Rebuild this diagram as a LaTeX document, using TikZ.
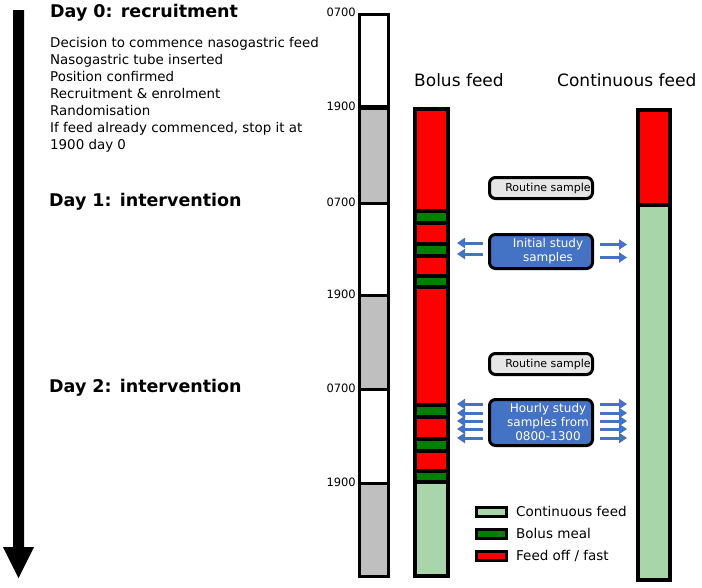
\documentclass[tikz,border=0pt]{standalone}
\usepackage{fontspec}
\setmainfont{DejaVu Sans}
\usetikzlibrary{positioning, arrows.meta, calc}
\definecolor{feedred}{RGB}{255,0,0}
\definecolor{bolusgreen}{RGB}{0,128,0}
\definecolor{contgreen}{RGB}{168,213,170}
\definecolor{nightgrey}{RGB}{191,191,191}
\definecolor{routinegrey}{RGB}{230,230,230}
\definecolor{studyblue}{RGB}{68,114,196}
\tikzset{>={Triangle[length=8pt,width=10pt]}}

\begin{document}
\begin{tikzpicture}[x=1pt, y=-1pt,
    day_title/.style={anchor=base west, inner sep=0, font=\fontsize{17.5}{20}\selectfont\bfseries},
    col_title/.style={anchor=base west, inner sep=0, font=\fontsize{17}{20}\selectfont},
    time_label/.style={anchor=east, inner sep=0, font=\fontsize{11.5}{13}\selectfont},
    day_cell/.style={draw=black, line width=3pt},
    feed_cell/.style={draw=black, line width=4pt},
    sample_box/.style={rectangle, rounded corners=6pt, draw=black, line width=3pt, minimum width=103pt, inner sep=0},
    sample_text/.style={inner sep=0, align=center, font=\fontsize{12}{14}\selectfont},
    study_arrow/.style={->, draw=studyblue, fill=studyblue, line width=3pt},
    swatch/.style={rectangle, draw=black, line width=3pt, minimum width=30pt, minimum height=9pt, inner sep=0},
    key_text/.style={inner sep=0, text height=9.8pt, text depth=0pt, font=\fontsize{13.5}{15}\selectfont}]
    \useasboundingbox (0,0) rectangle (702,587);

    % time runs downwards
    \fill (13,10) -- (24,10) -- (24,547) -- (34,547) -- (18.5,578) -- (3,547) -- (13,547) -- cycle;

    \node[day_title] (day0) at (50,17) {Day 0: recruitment};
    \node[anchor=north west, inner sep=0, align=left, font=\fontsize{13.4}{17}\selectfont] (steps) at (50,37)
    {Decision to commence nasogastric feed\\Nasogastric tube inserted\\Position confirmed\\Recruitment \& enrolment\\Randomisation\\If feed already commenced, stop it at\\1900 day 0};
    \node[day_title] (day1) at (49,206) {Day 1: intervention};
    \node[day_title] (day2) at (49,392) {Day 2: intervention};

    % day / night bar
    \foreach \top/\bot/\col in {14/107/white, 107/203/nightgrey, 203/295/white, 295/389/nightgrey, 389/483/white, 483/576/nightgrey}
        \draw[day_cell, fill=\col] (359.5,\top) rectangle (388.5,\bot);
    \draw[line width=5pt] (358,107) -- (390,107);
    \foreach \y/\t in {13/0700, 107/1900, 203/0700, 295/1900, 389/0700, 483/1900}
        \node[time_label] (t\y) at (356,\y-1) {\t};

    \node[col_title] (bolus_title) at (414,86) {Bolus feed};
    \node[col_title] (cont_title) at (557,86) {Continuous feed};

    % bolus arm
    \foreach \top/\bot/\col in {109/211/feedred, 211/223/bolusgreen, 223/244/feedred, 244/256/bolusgreen, 256/276/feedred, 276/287/bolusgreen, 287/405/feedred, 405/417/bolusgreen, 417/439/feedred, 439/451/bolusgreen, 451/471/feedred, 471/482/bolusgreen, 482/576/contgreen}
        \draw[feed_cell, fill=\col] (415,\top) rectangle (448,\bot);

    % continuous arm
    \draw[feed_cell, fill=feedred] (638,110) rectangle (670,205);
    \draw[feed_cell, fill=contgreen] (638,205) rectangle (670,580);

    % samples
    \node[sample_box, fill=routinegrey, minimum height=21pt] (routine1) at (541,188) {};
    \node[sample_text, font=\fontsize{11}{13}\selectfont] (routine1_text) at ([xshift=7pt]routine1.center) {Routine sample};
    \node[sample_box, fill=studyblue, minimum height=34pt] (initial) at (541,251.5) {};
    \node[sample_text, text=white] (initial_text) at ([xshift=7pt]initial.center) {Initial study\\samples};
    \node[sample_box, fill=routinegrey, minimum height=21pt] (routine2) at (541,364) {};
    \node[sample_text, font=\fontsize{11}{13}\selectfont] (routine2_text) at ([xshift=7pt]routine2.center) {Routine sample};
    \node[sample_box, fill=studyblue, minimum height=46pt] (hourly) at (541,422.5) {};
    \node[sample_text, text=white] (hourly_text) at ([xshift=7pt]hourly.center) {Hourly study\\samples from\\0800-1300};

    \foreach \dy in {-8.5,2.5}
        \draw[study_arrow] ($(initial.west)+(-5,\dy)$) -- ++(-26,0);
    \foreach \dy in {-7,6}
        \draw[study_arrow] ($(initial.east)+(6,\dy)$) -- ++(27,0);
    \foreach \dy in {-18.5,-9.5,-1.5,6.5,15.5} {
        \draw[study_arrow] ($(hourly.west)+(-5,\dy)$) -- ++(-26,0);
        \draw[study_arrow] ($(hourly.east)+(6,\dy)$) -- ++(27,0);
    }

    % key
    \node[swatch, fill=contgreen] (key_cont) at (491.5,511.5) {};
    \node[swatch, fill=bolusgreen] (key_bolus) at (491.5,534) {};
    \node[swatch, fill=feedred] (key_off) at (491.5,555.5) {};
    \node[key_text, right=8pt of key_cont] (key_cont_text) {Continuous feed};
    \node[key_text, right=8pt of key_bolus] (key_bolus_text) {Bolus meal};
    \node[key_text, right=8pt of key_off] (key_off_text) {Feed off / fast};
\end{tikzpicture}
\end{document}
